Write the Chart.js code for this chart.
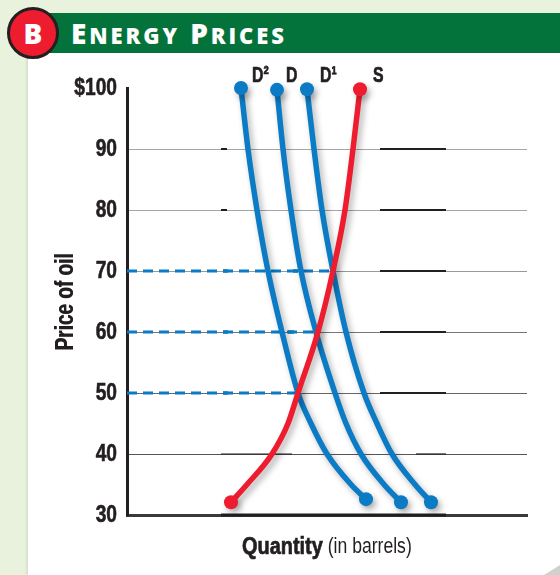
<!DOCTYPE html>
<html>
<head>
<meta charset="utf-8">
<script src="https://cdn.jsdelivr.net/npm/chart.js@4"></script>
<style>
  html, body { margin: 0; padding: 0; }
  body { width: 560px; height: 575px; position: relative; overflow: hidden; background: #e9f2dd; }
  #panel { position: absolute; left: 28px; top: 50px; width: 532px; height: 525px; background: #fff; box-shadow: -1px 0 3px rgba(0,0,0,.12); }
  #bar { position: absolute; left: 45px; top: 13px; width: 515px; height: 40px; background: #04733b; }
  #badge { position: absolute; left: 7px; top: 7px; width: 46px; height: 46px; border: 3px solid #231f20; border-radius: 50%; background: #ed1c2e; color: #fff; font: 800 28px "Open Sans", sans-serif; line-height: 46px; text-align: center; }
  #title { position: absolute; left: 71px; top: 14px; color: #fff; font: 800 28px "Open Sans", sans-serif; letter-spacing: 2.9px; line-height: 38px; white-space: nowrap; }
  #title span { font-size: 22px; }
  #corner { position: absolute; right: 0; bottom: 0; width: 0; height: 0; border-left: 16px solid transparent; border-bottom: 10px solid #cfd2cc; }
  #wrap { position: absolute; left: 0; top: 0; }
</style>
</head>
<body>
<div id="panel"></div>
<div id="bar"></div>
<div id="badge">B</div>
<div id="title">E<span>NERGY</span> P<span>RICES</span></div>
<div id="corner"></div>
<div id="wrap"><canvas id="chart" width="560" height="575"></canvas></div>
<script>
const FONT = '"Liberation Sans", sans-serif';
const INK = '#231f20';
const BLUE = '#0a7bc4';

// values, quantity has no printed scale
const priceTicks = [100, 90, 80, 70, 60, 50, 40, 30];
const gridColors = ['transparent', '#a5a5a5', '#a5a5a5', '#999', '#777', '#666', '#555', 'transparent'];

const d2Quantity = [114, 121, 130, 141, 155, 171, 184, 200, 224, 239];
const d2Price = [100, 90, 80, 70, 60, 50, 45, 40, 35, 32.6];

const dQuantity = [150, 156, 164, 174, 189, 208, 219, 234, 257, 274];
const dPrice = [99.7, 90, 80, 70, 60, 50, 45, 40, 35, 32.1];

const d1Quantity = [180, 187, 195, 206, 219, 237, 250, 265, 288, 304];
const d1Price = [99.8, 90, 80, 70, 60, 50, 45, 40, 35, 32.1];

const sQuantity = [104, 120, 145, 161, 171, 191, 206, 218, 226, 233];
const sPrice = [32.1, 35, 40, 45, 50, 60, 70, 80, 90, 99.8];

// dashed guides stop where the curves meet supply
const guidePrices = [70, 60, 50];
const guideEnds = [206, 191, 171];

// darker pieces lying on the grid lines
const inkPrices = [90, 90, 80, 80, 70, 60, 50, 40, 40, 30];
const inkStarts = [94, 253, 94, 253, 253, 253, 253, 94, 289, 94];
const inkEnds = [100, 319, 100, 319, 319, 319, 319, 165, 319, 319];

// little blobs on the dashes
const blobPrices = [70, 70, 60, 60, 50];
const blobStarts = [96, 166, 96, 161, 96];
const blobEnds = [101, 171, 101, 167, 101];

function xy(xs, ys) {
  return xs.map((x, i) => ({ x: x, y: ys[i] }));
}

function curve(label, labelGap, xs, ys, color) {
  return {
    label: label,
    labelGap: labelGap,
    data: xy(xs, ys),
    borderColor: color,
    backgroundColor: color,
    borderWidth: 5.5,
    cubicInterpolationMode: 'monotone',
    pointBorderWidth: 0,
    pointRadius: (ctx) => (ctx.dataIndex === 0 || ctx.dataIndex === xs.length - 1 ? 7 : 0),
    clip: false,
    shadowed: true,
  };
}

function segments(prices, starts, ends, color, width) {
  return prices.map((p, i) => ({
    data: xy([starts[i], ends[i]], [p, p]),
    borderColor: color,
    borderWidth: typeof width === 'function' ? width(p) : width,
    pointRadius: 0,
    clip: false,
  }));
}

const guides = guidePrices.map((p, i) => ({
  data: xy([0, guideEnds[i]], [p, p]),
  borderColor: BLUE,
  borderWidth: 3,
  borderDash: [10, 6],
  pointRadius: 0,
}));

const softShadow = {
  id: 'softShadow',
  beforeDatasetDraw(chart, args) {
    if (!args.meta.controller.getDataset().shadowed) return;
    const c = chart.ctx;
    c.save();
    c.shadowColor = 'rgba(0,0,0,0.3)';
    c.shadowBlur = 6;
    c.shadowOffsetX = 3;
    c.shadowOffsetY = 4;
  },
  afterDatasetDraw(chart, args) {
    if (args.meta.controller.getDataset().shadowed) chart.ctx.restore();
  },
};

// no condensed font is installed, so squeeze the text sideways
function narrowText(c, text, x, y, font, squeeze, heavy) {
  c.save();
  c.translate(x, y);
  c.scale(squeeze, 1);
  c.font = font;
  c.fillText(text, 0, 0);
  if (heavy) {
    c.strokeStyle = c.fillStyle;
    c.lineWidth = 0.7;
    c.strokeText(text, 0, 0);
  }
  const w = c.measureText(text).width * squeeze;
  c.restore();
  return w;
}

const curveNames = {
  id: 'curveNames',
  afterDraw(chart) {
    const c = chart.ctx;
    const { x, y } = chart.scales;
    c.save();
    c.fillStyle = INK;
    c.textBaseline = 'middle';
    chart.data.datasets.forEach((ds) => {
      if (!ds.shadowed) return;
      const top = ds.data.reduce((a, b) => (b.y > a.y ? b : a));
      narrowText(c, ds.label, x.getPixelForValue(top.x) + ds.labelGap, y.getPixelForValue(100) - 12, 'bold 22px ' + FONT, 0.72, true);
    });
    const start = 242;
    const w = narrowText(c, 'Quantity', start, 547, 'bold 24px ' + FONT, 0.83, true);
    narrowText(c, ' (in barrels)', start + w, 547, '22px ' + FONT, 0.8);
    c.restore();
  },
};

// same squeeze for the y axis labels and title
function squeezeYAxis(scale) {
  if (scale.squeezed) return;
  scale.squeezed = true;
  const c = scale.ctx;
  const drawLabels = scale.drawLabels;
  const drawTitle = scale.drawTitle;
  scale.drawLabels = function (area) {
    c.save();
    c.translate(117, 0);
    c.scale(0.8, 1);
    c.translate(-117, 0);
    drawLabels.call(this, area);
    c.restore();
  };
  scale.drawTitle = function () {
    const mid = (this.top + this.bottom) / 2;
    c.save();
    c.translate(0, mid);
    c.scale(1, 0.76);
    c.translate(0, -mid);
    drawTitle.call(this);
    c.translate(0, 0.8);
    drawTitle.call(this);
    c.restore();
  };
}

new Chart(document.getElementById('chart').getContext('2d'), {
  type: 'line',
  data: {
    datasets: [
      curve('S', 13, sQuantity, sPrice, '#ed1c2e'),
      curve('D²', 11, d2Quantity, d2Price, BLUE),
      curve('D', 9, dQuantity, dPrice, BLUE),
      curve('D¹', 13, d1Quantity, d1Price, BLUE),
      ...guides,
      ...segments(blobPrices, blobStarts, blobEnds, BLUE, 3.5),
      ...segments(inkPrices, inkStarts, inkEnds, INK, (p) => (p === 30 ? 3 : p === 40 ? 1.2 : 2)),
    ],
  },
  options: {
    responsive: false,
    animation: false,
    layout: { padding: { top: 88, right: 33, left: 0, bottom: 0 } },
    plugins: { legend: { display: false }, tooltip: { enabled: false } },
    scales: {
      x: {
        type: 'linear',
        min: 0,
        max: 400,
        ticks: { display: false },
        grid: { display: false },
        border: { color: '#3a3a3a', width: 3 },
        afterFit(scale) { scale.height = 60; },
      },
      y: {
        min: 30,
        max: 100,
        afterBuildTicks(scale) { scale.ticks = priceTicks.map((v) => ({ value: v })); },
        afterUpdate: squeezeYAxis,
        ticks: {
          color: INK,
          padding: 10,
          textStrokeColor: INK,
          textStrokeWidth: 0.6,
          font: { family: FONT, size: 24, weight: 'bold' },
          callback: (v) => (v === 100 ? '$100' : String(v)),
        },
        grid: {
          color: (ctx) => gridColors[priceTicks.indexOf(ctx.tick.value)],
          lineWidth: 1,
          drawTicks: false,
        },
        border: { color: INK, width: 3 },
        title: {
          display: true,
          text: 'Price of oil',
          color: INK,
          padding: { top: 51, bottom: 0 },
          font: { family: FONT, size: 25, weight: 'bold' },
        },
        afterFit(scale) { scale.width = 127; },
      },
    },
  },
  plugins: [softShadow, curveNames],
});
</script>
</body>
</html>
